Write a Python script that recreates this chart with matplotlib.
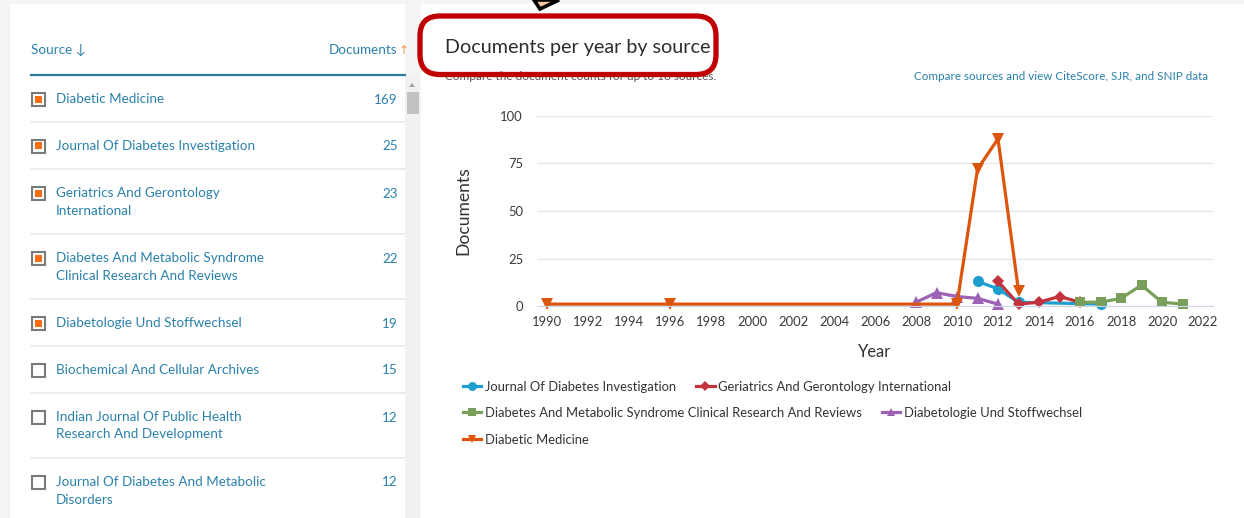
import matplotlib.pyplot as plt
from matplotlib.patches import Rectangle, FancyBboxPatch, Polygon
from matplotlib.lines import Line2D

# ---- data ----
source_names = ["Diabetic Medicine",
                "Journal Of Diabetes Investigation",
                "Geriatrics And Gerontology\nInternational",
                "Diabetes And Metabolic Syndrome\nClinical Research And Reviews",
                "Diabetologie Und Stoffwechsel",
                "Biochemical And Cellular Archives",
                "Indian Journal Of Public Health\nResearch And Development",
                "Journal Of Diabetes And Metabolic\nDisorders"]
source_counts = [169, 25, 23, 22, 19, 15, 12, 12]
source_checked = [True, True, True, True, True, False, False, False]

years_jdi = [2011, 2012, 2013, 2017]
docs_jdi = [13, 9, 2, 1]
years_ggi = [2012, 2013, 2014, 2015, 2016]
docs_ggi = [13, 1, 2, 5, 2]
years_dms = [2016, 2017, 2018, 2019, 2020, 2021]
docs_dms = [2, 2, 4, 11, 2, 1]
years_ds = [2008, 2009, 2010, 2011, 2012]
docs_ds = [2, 7, 5, 4, 1]
years_dm = [1990, 1996, 2010, 2011, 2012, 2013]
docs_dm = [1, 1, 1, 72, 88, 8]

series = [
    ("Journal Of Diabetes Investigation", years_jdi, docs_jdi, '#1c9fcf', 'o', 8),
    ("Geriatrics And Gerontology International", years_ggi, docs_ggi, '#c3323d', 'D', 6),
    ("Diabetes And Metabolic Syndrome Clinical Research And Reviews", years_dms, docs_dms, '#7a9f5a', 's', 7.5),
    ("Diabetologie Und Stoffwechsel", years_ds, docs_ds, '#9d62b5', '^', 8),
    ("Diabetic Medicine", years_dm, docs_dm, '#dd550c', 'v', 8),
]

x_ticks = list(range(1990, 2023, 2))
y_ticks = [0, 25, 50, 75, 100]

W, H = 1244, 518
plt.rcParams['font.family'] = ['Lato', 'DejaVu Sans']
link = '#2a80ab'
dark = '#333333'


def fx(x):
    return x / W


def fy(y):
    return 1 - y / H


def px(p):
    return p * 72 / 100


fig = plt.figure(figsize=(W / 100, H / 100), dpi=100, facecolor='#f4f4f4')
tf = fig.transFigure

# panels (behind the axes)
fig.patches.append(Rectangle((fx(10), 0), fx(405) - fx(10), fy(4), transform=tf, fc='white', ec='none', zorder=-2))
fig.patches.append(Rectangle((fx(421), 0), 1 - fx(421), fy(4), transform=tf, fc='white', ec='none', zorder=-2))
# scrollbar
fig.patches.append(Rectangle((fx(405), 0), fx(15), fy(76), transform=tf, fc='#f1f1f1', ec='none', zorder=1))
fig.patches.append(Rectangle((fx(407), fy(114)), fx(12), 22 / H, transform=tf, fc='#c1c1c1', ec='none', zorder=2))
fig.patches.append(Polygon([(fx(409), fy(87)), (fx(415), fy(87)), (fx(412), fy(83))], closed=True,
                           transform=tf, fc='#a3a3a3', ec='none', zorder=2))

# ---- left source list ----
fig.text(fx(31), fy(50), "Source ↓", color=link, fontsize=px(13.5), va='center', ha='left')
fig.text(fx(397), fy(50), "Documents", color=link, fontsize=px(13.5), va='center', ha='right')
fig.text(fx(399), fy(50), "↑", color='#f7924f', fontsize=px(12), va='center', ha='left',
         family=['DejaVu Sans'])
fig.lines.append(Line2D([fx(31), fx(405)], [fy(75), fy(75)], transform=tf, color='#2b7c9c', lw=1.6))

row_top = 75
for name, count, checked in zip(source_names, source_counts, source_checked):
    n_lines = name.count('\n') + 1
    y0 = row_top + 24
    fig.text(fx(56), fy(y0 - 6), name, color=link, fontsize=px(13.5), va='top', ha='left',
             linespacing=1.55)
    fig.text(fx(398), fy(y0 + 0.5), str(count), color=link, fontsize=px(13.5), va='center', ha='right')
    fig.patches.append(Rectangle((fx(31.5), fy(y0 + 6.5)), 13 / W, 13 / H, transform=tf,
                                 fc='white', ec='#7a7a7a', lw=1.5, zorder=3))
    if checked:
        fig.patches.append(Rectangle((fx(34.5), fy(y0 + 3.5)), 7 / W, 7 / H, transform=tf,
                                     fc='#f86c13', ec='none', zorder=4))
    row_top += 47 + 18 * (n_lines - 1)
    if row_top < H:
        fig.lines.append(Line2D([fx(31), fx(405)], [fy(row_top), fy(row_top)], transform=tf,
                                color='#e9e9e9', lw=1.2))

# ---- right header ----
fig.text(fx(445), fy(47), "Documents per year by source", color='#2d2d2d', fontsize=px(19.8),
         va='center', ha='left')
fig.text(fx(445), fy(77), "Compare the document counts for up to 10 sources.", color='#555555',
         fontsize=px(11.8), va='center', ha='left')
fig.text(fx(1208), fy(76), "Compare sources and view CiteScore, SJR, and SNIP data", color=link,
         fontsize=px(11.6), va='center', ha='right')
fig.patches.append(FancyBboxPatch((fx(420), fy(74.5)), fx(296), 58.5 / H,
                                  boxstyle="round,pad=0,rounding_size=0.016", transform=tf,
                                  fc='none', ec='#c00000', lw=3.8, zorder=10,
                                  mutation_aspect=W / H))
# tip of the hand-drawn arrow
fig.patches.append(Polygon([(fx(534), fy(0)), (fx(540), fy(9)), (fx(559), fy(0))], closed=True,
                           transform=tf, fc='#f5c9a3', ec='black', lw=2.6, zorder=10))

# ---- chart ----
ax = fig.add_axes([fx(537), fy(306), fx(1213) - fx(537), (306 - 116) / H])
ax.set_facecolor('none')
for name, xs, ys, color, marker, ms in series:
    ax.plot(xs, ys, color=color, lw=2.3, marker=marker, markersize=ms, label=name, clip_on=False,
            markeredgewidth=0)

ax.set_xlim(1990 - 10 / 20.5, 2022 + 10 / 20.5)
ax.set_ylim(0, 100)
ax.set_xticks(x_ticks)
ax.set_yticks(y_ticks)
ax.grid(axis='y', color='#e6e6e6', lw=1)
ax.set_axisbelow(True)
for s in ['top', 'right', 'left']:
    ax.spines[s].set_visible(False)
ax.spines['bottom'].set_color('#ccd6eb')
ax.tick_params(axis='both', length=0, labelsize=px(13), labelcolor='#3a3a3a')
ax.tick_params(axis='x', pad=px(10))
ax.tick_params(axis='y', pad=px(14))
ax.set_xlabel("Year", fontsize=px(16.5), color='#333333', labelpad=px(16))
ax.set_ylabel("Documents", fontsize=px(17.5), color='#333333', labelpad=px(29))

# legend rows (flowing layout as in the page)
handles, labels = ax.get_legend_handles_labels()
rows = [(0, 2, 387), (2, 4, 413), (4, 5, 440)]
for a, b, yy in rows:
    fig.legend(handles[a:b], labels[a:b], loc='center left', bbox_to_anchor=(fx(463), fy(yy)),
               ncol=b - a, frameon=False, fontsize=px(13), borderpad=0, borderaxespad=0,
               handlelength=1.4, handletextpad=0.3, columnspacing=1.55, markerscale=0.8,
               labelcolor=dark)

fig.savefig('out.png', dpi=100, facecolor=fig.get_facecolor())
